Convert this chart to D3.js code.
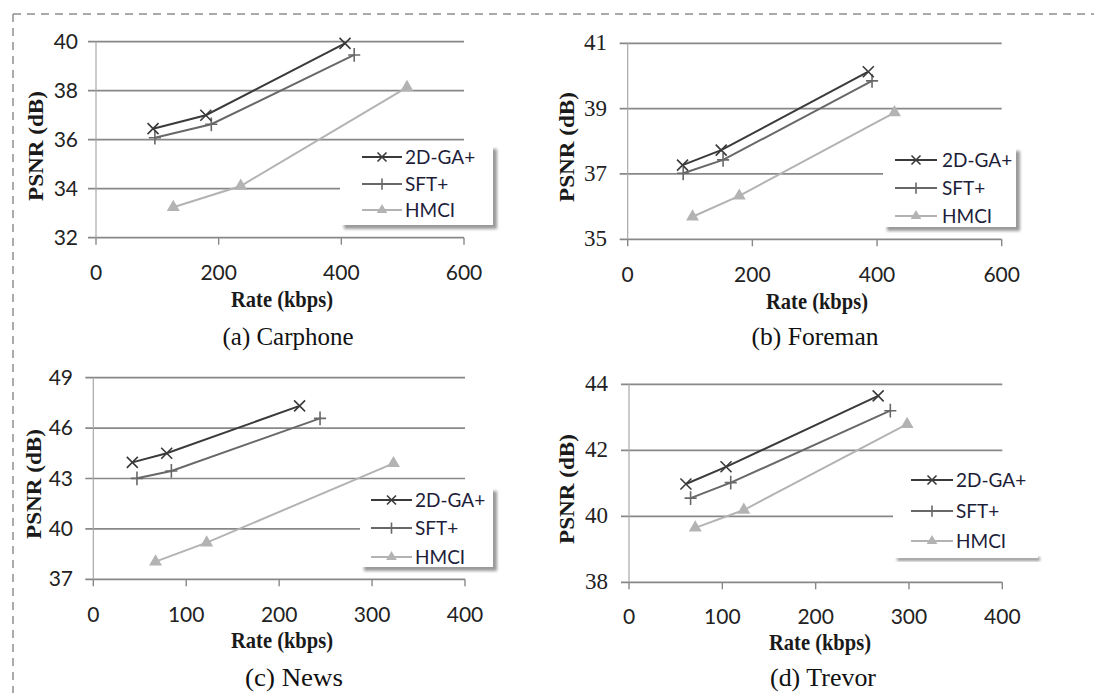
<!DOCTYPE html>
<html><head><meta charset="utf-8">
<script src="https://cdn.jsdelivr.net/npm/d3@7"></script>
<style>body{margin:0;background:#fff}svg{display:block}</style>
</head><body>
<script>
// ---------------- DATA ----------------
const seriesNames = ["2D-GA+", "SFT+", "HMCI"];
const captions = ["(a) Carphone", "(b) Foreman", "(c) News", "(d) Trevor"];
const xTicksA = [0, 200, 400, 600];
const xTicksB = [0, 100, 200, 300, 400];
const yTicksCarphone = [32, 34, 36, 38, 40];
const yTicksForeman = [35, 37, 39, 41];
const yTicksNews = [37, 40, 43, 46, 49];
const yTicksTrevor = [38, 40, 42, 44];

const carphoneRate = [[93, 179, 406], [96, 188, 421], [126, 236, 507]];
const carphonePSNR = [[36.45, 37.0, 39.93], [36.08, 36.63, 39.46], [33.24, 34.11, 38.14]];
const foremanRate = [[88, 150, 386], [89, 153, 392], [104, 179, 428]];
const foremanPSNR = [[37.27, 37.73, 40.13], [37.02, 37.43, 39.85], [35.69, 36.33, 38.88]];
const newsRate = [[42, 79, 222], [47, 84, 244], [67, 122, 323]];
const newsPSNR = [[43.96, 44.5, 47.32], [43.01, 43.45, 46.58], [38.05, 39.18, 43.9]];
const trevorRate = [[61, 104, 267], [66, 109, 280], [71, 123, 298]];
const trevorPSNR = [[40.98, 41.5, 43.65], [40.55, 41.02, 43.2], [39.65, 40.19, 42.79]];

// ---------------- LAYOUT / STYLE ----------------
const seriesColors = ["#3a3a3a", "#686868", "#b3b3b3"];
const gridColor = "#888888";
const sans = "Lato, 'Liberation Sans', sans-serif";
const serif = "'Liberation Serif', 'Times New Roman', serif";

const panels = [
  {rate: carphoneRate, psnr: carphonePSNR, xTicks: xTicksA, yTicks: yTicksCarphone, caption: captions[0],
   x: [96, 464], y: [237.7, 41.7], yFont: sans, yLabelRight: 78, xLabelBase: 280,
   xTitle: [282, 307], yTitle: [43, 146], cap: [288, 345, 131],
   legend: {x: 340, y: 145, w: 153, h: 80, lx0: 362, lx1: 402, tx: 405, rows: [157, 184, 210], shadow: "both"}},
  {rate: foremanRate, psnr: foremanPSNR, xTicks: xTicksA, yTicks: yTicksForeman, caption: captions[1],
   x: [627.7, 1001.7], y: [239.3, 43.3], yFont: serif, yLabelRight: 607, xLabelBase: 282,
   xTitle: [817, 309], yTitle: [574, 147], cap: [815, 345, 127],
   legend: {x: 883, y: 147, w: 133, h: 80, lx0: 895, lx1: 937, tx: 942, rows: [160, 188, 216], shadow: "both"}},
  {rate: newsRate, psnr: newsPSNR, xTicks: xTicksB, yTicks: yTicksNews, caption: captions[2],
   x: [93.3, 465], y: [579.3, 377.7], yFont: sans, yLabelRight: 73, xLabelBase: 622,
   xTitle: [282, 648], yTitle: [41, 484], cap: [294, 686, 98],
   legend: {x: 360, y: 487, w: 133, h: 80, lx0: 371, lx1: 412, tx: 415, rows: [500, 528, 557], shadow: "both"}},
  {rate: trevorRate, psnr: trevorPSNR, xTicks: xTicksB, yTicks: yTicksTrevor, caption: captions[3],
   x: [629, 1002.3], y: [582.3, 384.3], yFont: serif, yLabelRight: 608, xLabelBase: 624,
   xTitle: [820, 650], yTitle: [574, 489], cap: [823, 686, 106],
   legend: {x: 893, y: 462, w: 145, h: 96, lx0: 911, lx1: 953, tx: 956, rows: [480, 511, 541], shadow: "bottom"}}
];

const svg = d3.select("body").append("svg").attr("width", 1094).attr("height", 693);
const defs = svg.append("defs");
defs.append("filter").attr("id", "blur").attr("x", "-20%").attr("y", "-20%").attr("width", "140%").attr("height", "140%")
  .append("feGaussianBlur").attr("stdDeviation", 1.8);

// dashed frame
svg.append("line").attr("x1", 13).attr("x2", 1094).attr("y1", 14).attr("y2", 14)
  .attr("stroke", "#8f8f8f").attr("stroke-width", 1.5).attr("stroke-dasharray", "8,6");
svg.append("line").attr("x1", 13).attr("x2", 13).attr("y1", 14).attr("y2", 693)
  .attr("stroke", "#8f8f8f").attr("stroke-width", 1.5).attr("stroke-dasharray", "8,6");

function marker(g, type, x, y, color, s) {
  if (type === 0) {
    g.append("path").attr("d", `M${x - s},${y - s}L${x + s},${y + s}M${x - s},${y + s}L${x + s},${y - s}`)
      .attr("stroke", color).attr("stroke-width", 1.6).attr("fill", "none");
  } else if (type === 1) {
    g.append("path").attr("d", `M${x - s * 1.1},${y}L${x + s * 1.1},${y}M${x},${y - s * 1.25}L${x},${y + s * 1.25}`)
      .attr("stroke", color).attr("stroke-width", 1.6).attr("fill", "none");
  } else {
    g.append("path").attr("d", d3.symbol(d3.symbolTriangle, s * s * 2.4)()).attr("transform", `translate(${x},${y})`)
      .attr("fill", color);
  }
}

panels.forEach(p => {
  const g = svg.append("g");
  const xs = d3.scaleLinear().domain([p.xTicks[0], p.xTicks[p.xTicks.length - 1]]).range(p.x);
  const ys = d3.scaleLinear().domain([p.yTicks[0], p.yTicks[p.yTicks.length - 1]]).range(p.y);

  // gridlines (extend left as tick marks)
  g.selectAll(".grid").data(p.yTicks).enter().append("line")
    .attr("x1", p.x[0] - 8).attr("x2", p.x[1])
    .attr("y1", d => ys(d)).attr("y2", d => ys(d))
    .attr("stroke", gridColor).attr("stroke-width", 1.7);
  // y axis line
  g.append("line").attr("x1", p.x[0]).attr("x2", p.x[0]).attr("y1", p.y[0]).attr("y2", p.y[1])
    .attr("stroke", "#a8a8a8").attr("stroke-width", 1.2);
  // x ticks
  g.selectAll(".xt").data(p.xTicks).enter().append("line")
    .attr("x1", d => xs(d)).attr("x2", d => xs(d)).attr("y1", p.y[0]).attr("y2", p.y[0] + 7)
    .attr("stroke", gridColor).attr("stroke-width", 1.4);
  // x tick labels
  g.selectAll(".xl").data(p.xTicks).enter().append("text")
    .attr("x", d => xs(d)).attr("y", p.xLabelBase).attr("text-anchor", "middle")
    .attr("font-family", sans).attr("font-size", 21).attr("fill", "#222").text(d => d);
  // y tick labels
  g.selectAll(".yl").data(p.yTicks).enter().append("text")
    .attr("x", p.yLabelRight).attr("y", d => ys(d) + 7).attr("text-anchor", "end")
    .attr("font-family", p.yFont).attr("font-size", p.yFont === serif ? 23 : 21).attr("fill", "#222").text(d => d);
  // axis titles
  g.append("text").attr("x", p.xTitle[0]).attr("y", p.xTitle[1]).attr("text-anchor", "middle")
    .attr("font-family", serif).attr("font-weight", "bold").attr("font-size", 23).attr("fill", "#1a1a1a")
    .attr("textLength", 102).attr("lengthAdjust", "spacingAndGlyphs").text("Rate (kbps)");
  g.append("text").attr("transform", `translate(${p.yTitle[0]},${p.yTitle[1]}) rotate(-90)`)
    .attr("text-anchor", "middle")
    .attr("font-family", serif).attr("font-weight", "bold").attr("font-size", 22).attr("fill", "#1a1a1a")
    .attr("textLength", 110).attr("lengthAdjust", "spacingAndGlyphs").text("PSNR (dB)");
  // caption
  g.append("text").attr("x", p.cap[0]).attr("y", p.cap[1]).attr("text-anchor", "middle")
    .attr("font-family", serif).attr("font-size", 26).attr("fill", "#111")
    .attr("textLength", p.cap[2]).attr("lengthAdjust", "spacingAndGlyphs").text(p.caption);

  // series
  const line = d3.line().x(d => xs(d[0])).y(d => ys(d[1]));
  [2, 1, 0].forEach(si => {
    const pts = p.rate[si].map((r, i) => [r, p.psnr[si][i]]);
    g.append("path").attr("d", line(pts)).attr("fill", "none")
      .attr("stroke", seriesColors[si]).attr("stroke-width", 2);
    pts.forEach(d => marker(g, si, xs(d[0]), ys(d[1]), seriesColors[si], 5.5));
  });

  // legend
  const L = p.legend;
  if (L.shadow === "both") {
    g.append("rect").attr("x", L.x + 4).attr("y", L.y + 4).attr("width", L.w).attr("height", L.h)
      .attr("fill", "#9a9a9a").attr("filter", "url(#blur)");
  } else {
    g.append("rect").attr("x", L.x + 4).attr("y", L.y + L.h - 1).attr("width", L.w - 2).attr("height", 4)
      .attr("fill", "#9a9a9a").attr("filter", "url(#blur)");
  }
  g.append("rect").attr("x", L.x).attr("y", L.y).attr("width", L.w).attr("height", L.h).attr("fill", "#fff");
  seriesNames.forEach((nm, si) => {
    const yy = L.rows[si];
    g.append("line").attr("x1", L.lx0).attr("x2", L.lx1).attr("y1", yy).attr("y2", yy)
      .attr("stroke", seriesColors[si]).attr("stroke-width", 2);
    marker(g, si, (L.lx0 + L.lx1) / 2, yy, seriesColors[si], 4.5);
    g.append("text").attr("x", L.tx).attr("y", yy + 7).attr("font-family", sans).attr("font-size", 19)
      .attr("fill", "#1e1e3a").text(nm);
  });
});
</script>
</body></html>
